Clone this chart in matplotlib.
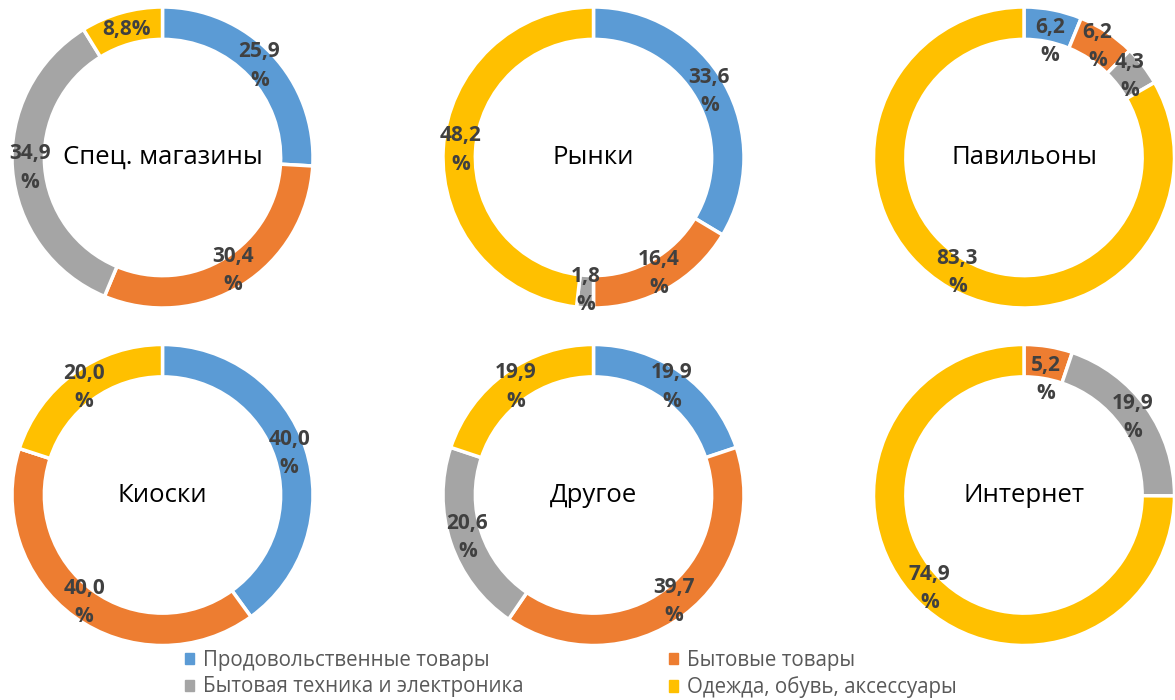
import matplotlib
matplotlib.use("Agg")
import matplotlib.pyplot as plt
import numpy as np

plt.rcParams['font.family'] = ['Open Sans', 'DejaVu Sans']

categories = ["Продовольственные товары", "Бытовые товары",
              "Бытовая техника и электроника", "Одежда, обувь, аксессуары"]
colors = ["#5B9BD5", "#ED7D31", "#A5A5A5", "#FFC000"]

titles = ["Спец. магазины", "Рынки", "Павильоны", "Киоски", "Другое", "Интернет"]
spec_shops = [25.9, 30.4, 34.9, 8.8]
markets = [33.6, 16.4, 1.8, 48.2]
pavilions = [6.2, 6.2, 4.3, 83.3]
kiosks = [40.0, 40.0, 0.0, 20.0]
other = [19.9, 39.7, 20.6, 19.9]
internet = [0.0, 5.2, 19.9, 74.9]
shares = [spec_shops, markets, pavilions, kiosks, other, internet]
# labels printed on a single line (chart index, slice index)
single_line = {(0, 3)}

W, H = 1175, 700
fig = plt.figure(figsize=(W / 100, H / 100), dpi=100)

R = 150.5
centers_x = [162.5, 593.5, 1024.0]
centers_y = [157.5, 495.0]

for k, (title, vals) in enumerate(zip(titles, shares)):
    cx = centers_x[k % 3]
    cy = centers_y[k // 3]
    ax = fig.add_axes([(cx - R) / W, 1 - (cy + R) / H, 2 * R / W, 2 * R / H])
    ax.pie(vals, colors=colors, startangle=90, counterclock=False, radius=1.0,
           wedgeprops=dict(width=0.215, edgecolor='white', linewidth=2.5),
           normalize=True)
    ax.set_xlim(-1, 1)
    ax.set_ylim(-1, 1)
    ax.set_aspect('equal')
    ax.axis('off')
    total = sum(vals)
    cum = 0.0
    for i, v in enumerate(vals):
        if v <= 0:
            continue
        mid = 90 - (cum + v / 2) / total * 360
        cum += v
        r = 0.885
        x = r * np.cos(np.radians(mid))
        y = r * np.sin(np.radians(mid))
        txt = f"{v:.1f}".replace('.', ',')
        if (k, i) in single_line:
            txt += "%"
        else:
            txt += "\n%"
            # keep two-line labels inside the top of the plot area
            y = min(y, 0.77)
        ax.text(x, y, txt, ha='center', va='center', fontsize=15,
                fontweight='bold', color='#404040', linespacing=1.45,
                clip_on=False)
    ax.text(0, 0, title, ha='center', va='center', fontsize=18.5, color='black')

# legend, filled row by row
order = [0, 2, 1, 3]
handles = [plt.Rectangle((0, 0), 1, 1, color=colors[i]) for i in order]
labels = [categories[i] for i in order]
fig.legend(handles, labels, loc='lower center', ncol=2,
           bbox_to_anchor=(0.486, -0.024), frameon=False, fontsize=14.8,
           handlelength=0.45, handleheight=0.45, handletextpad=0.45,
           columnspacing=7.05, labelspacing=0.26, labelcolor='#595959')

fig.savefig("out.png", dpi=100)
